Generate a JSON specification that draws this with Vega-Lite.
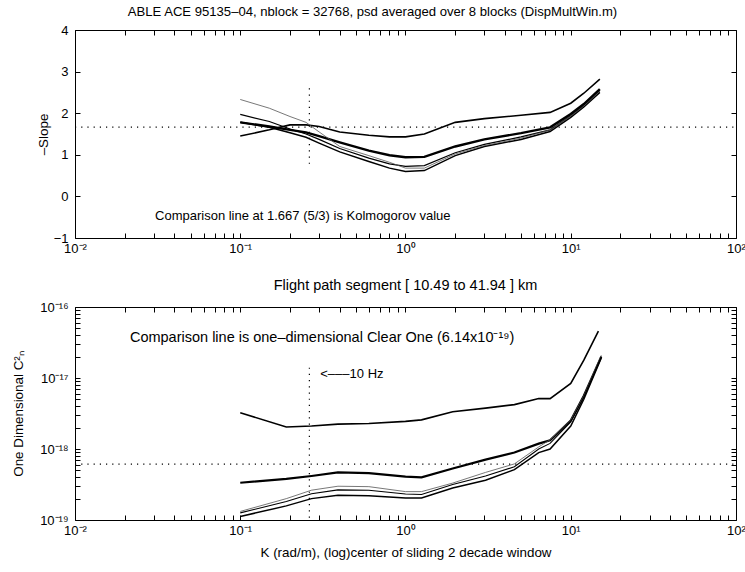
{
  "$schema": "https://vega.github.io/schema/vega-lite/v6.json",
  "background": "white",
  "padding": {"left": 11, "top": 5, "right": 5, "bottom": 5},
  "spacing": 21,
  "config": {
    "font": "Liberation Sans",
    "view": {"stroke": "black", "strokeWidth": 1},
    "axis": {"domain": false, "grid": false, "tickColor": "black", "labelColor": "black", "titleColor": "black", "labelFont": "Liberation Sans", "titleFont": "Liberation Sans", "labelFontSize": 13, "titleFontSize": 13.4, "titleFontWeight": "normal", "tickSize": -5, "labelFlush": false, "labelOverlap": false, "labelPadding": 9},
    "axisLeft": {"labelPadding": 12},
    "title": {"fontSize": 13.1, "fontWeight": "normal", "color": "black", "font": "Liberation Sans"},
    "text": {"font": "Liberation Sans", "fontSize": 13, "color": "black"}
  },
  "vconcat": [
    {
      "width": 661,
      "height": 208,
      "title": {"text": "ABLE ACE 95135–04, nblock = 32768, psd averaged over 8 blocks (DispMultWin.m)", "offset": 5, "dx": -33},
      "resolve": {"axis": {"x": "independent", "y": "independent"}},
      "layer": [
        {
          "data": {"values": [
            {"s":"B","x":0.1,"y":1.45},{"s":"B","x":0.15,"y":1.6},{"s":"B","x":0.2,"y":1.72},{"s":"B","x":0.25,"y":1.72},{"s":"B","x":0.3,"y":1.68},{"s":"B","x":0.4,"y":1.55},{"s":"B","x":0.6,"y":1.47},{"s":"B","x":0.8,"y":1.43},{"s":"B","x":1.0,"y":1.43},{"s":"B","x":1.3,"y":1.5},{"s":"B","x":2,"y":1.78},{"s":"B","x":3,"y":1.87},{"s":"B","x":5,"y":1.95},{"s":"B","x":7.5,"y":2.02},{"s":"B","x":10,"y":2.24},{"s":"B","x":12,"y":2.48},{"s":"B","x":15,"y":2.82}
          ]},
          "mark": {"type": "line", "color": "black", "strokeWidth": 1.6},
          "encoding": {
            "x": {"field": "x", "type": "quantitative", "scale": {"type": "log", "domain": [0.01, 100], "nice": false},
              "axis": {"orient": "bottom", "title": null, "values": [0.01,0.02,0.03,0.04,0.05,0.06,0.07,0.08,0.09,0.1,0.2,0.3,0.4,0.5,0.6,0.7,0.8,0.9,1,2,3,4,5,6,7,8,9,10,20,30,40,50,60,70,80,90,100],
                "labelExpr": "datum.value==0.01?'10⁻²':datum.value==0.1?'10⁻¹':datum.value==1?'10⁰':datum.value==10?'10¹':datum.value==100?'10²':''"}},
            "y": {"field": "y", "type": "quantitative", "scale": {"domain": [-1, 4], "nice": false},
              "axis": {"orient": "left", "title": "–Slope", "values": [-1,0,1,2,3,4], "titlePadding": 3}}
          }
        },
        {
          "data": {"values": [
            {"s":"C","x":0.1,"y":1.78},{"s":"C","x":0.15,"y":1.68},{"s":"C","x":0.2,"y":1.6},{"s":"C","x":0.25,"y":1.54},{"s":"C","x":0.3,"y":1.45},{"s":"C","x":0.4,"y":1.3},{"s":"C","x":0.6,"y":1.1},{"s":"C","x":0.8,"y":0.99},{"s":"C","x":1.0,"y":0.94},{"s":"C","x":1.3,"y":0.95},{"s":"C","x":2,"y":1.2},{"s":"C","x":3,"y":1.37},{"s":"C","x":5,"y":1.52},{"s":"C","x":7.5,"y":1.66},{"s":"C","x":10,"y":1.98},{"s":"C","x":12,"y":2.22},{"s":"C","x":15,"y":2.58}
          ]},
          "mark": {"type": "line", "color": "black", "strokeWidth": 2.4},
          "encoding": {
            "x": {"field": "x", "type": "quantitative", "scale": {"type": "log", "domain": [0.01, 100], "nice": false},
              "axis": {"orient": "top", "title": null, "labels": false, "values": [0.01,0.02,0.03,0.04,0.05,0.06,0.07,0.08,0.09,0.1,0.2,0.3,0.4,0.5,0.6,0.7,0.8,0.9,1,2,3,4,5,6,7,8,9,10,20,30,40,50,60,70,80,90,100]}},
            "y": {"field": "y", "type": "quantitative", "scale": {"domain": [-1, 4], "nice": false},
              "axis": {"orient": "right", "title": null, "labels": false, "values": [-1,0,1,2,3,4]}}
          }
        },
        {
          "data": {"values": [
            {"s":"E","x":0.1,"y":1.97},{"s":"E","x":0.15,"y":1.8},{"s":"E","x":0.2,"y":1.62},{"s":"E","x":0.25,"y":1.5},{"s":"E","x":0.3,"y":1.37},{"s":"E","x":0.4,"y":1.15},{"s":"E","x":0.6,"y":0.92},{"s":"E","x":0.8,"y":0.78},{"s":"E","x":1.0,"y":0.72},{"s":"E","x":1.3,"y":0.74},{"s":"E","x":2,"y":1.05},{"s":"E","x":3,"y":1.25},{"s":"E","x":5,"y":1.43},{"s":"E","x":7.5,"y":1.6},{"s":"E","x":10,"y":1.94},{"s":"E","x":12,"y":2.18},{"s":"E","x":15,"y":2.55}
          ]},
          "mark": {"type": "line", "color": "black", "strokeWidth": 1.2},
          "encoding": {
            "x": {"field": "x", "type": "quantitative", "scale": {"type": "log", "domain": [0.01, 100], "nice": false}, "axis": null},
            "y": {"field": "y", "type": "quantitative", "scale": {"domain": [-1, 4], "nice": false}, "axis": null}
          }
        },
        {
          "data": {"values": [
            {"s":"F","x":0.1,"y":1.78},{"s":"F","x":0.15,"y":1.66},{"s":"F","x":0.2,"y":1.53},{"s":"F","x":0.25,"y":1.42},{"s":"F","x":0.3,"y":1.28},{"s":"F","x":0.4,"y":1.07},{"s":"F","x":0.6,"y":0.84},{"s":"F","x":0.8,"y":0.68},{"s":"F","x":1.0,"y":0.6},{"s":"F","x":1.3,"y":0.62},{"s":"F","x":2,"y":0.98},{"s":"F","x":3,"y":1.2},{"s":"F","x":5,"y":1.37},{"s":"F","x":7.5,"y":1.56},{"s":"F","x":10,"y":1.9},{"s":"F","x":12,"y":2.15},{"s":"F","x":15,"y":2.5}
          ]},
          "mark": {"type": "line", "color": "black", "strokeWidth": 1.5},
          "encoding": {
            "x": {"field": "x", "type": "quantitative", "scale": {"type": "log", "domain": [0.01, 100], "nice": false}, "axis": null},
            "y": {"field": "y", "type": "quantitative", "scale": {"domain": [-1, 4], "nice": false}, "axis": null}
          }
        },
        {
          "data": {"values": [
            {"s":"S","x":0.1,"y":2.33},{"s":"S","x":0.15,"y":2.12},{"s":"S","x":0.2,"y":1.92},{"s":"S","x":0.25,"y":1.78},{"s":"S","x":0.3,"y":1.55},{"s":"S","x":0.4,"y":1.2},{"s":"S","x":0.6,"y":0.98},{"s":"S","x":0.8,"y":0.82},{"s":"S","x":1.0,"y":0.68},{"s":"S","x":1.3,"y":0.68},{"s":"S","x":2,"y":1.02},{"s":"S","x":3,"y":1.22},{"s":"S","x":5,"y":1.4},{"s":"S","x":7.5,"y":1.6},{"s":"S","x":10,"y":1.93},{"s":"S","x":12,"y":2.17},{"s":"S","x":15,"y":2.53}
          ]},
          "mark": {"type": "line", "color": "#555555", "strokeWidth": 0.8},
          "encoding": {
            "x": {"field": "x", "type": "quantitative", "scale": {"type": "log", "domain": [0.01, 100], "nice": false}, "axis": null},
            "y": {"field": "y", "type": "quantitative", "scale": {"domain": [-1, 4], "nice": false}, "axis": null}
          }
        },
        {
          "data": {"values": [
            {"r":"h","x":0.01,"y":1.667},{"r":"h","x":100,"y":1.667},
            {"r":"v","x":0.262,"y":2.6},{"r":"v","x":0.262,"y":0.7}
          ]},
          "mark": {"type": "line", "color": "black", "strokeWidth": 1.2, "strokeDash": [1.2, 5]},
          "encoding": {
            "detail": {"field": "r"},
            "x": {"field": "x", "type": "quantitative", "scale": {"type": "log", "domain": [0.01, 100], "nice": false}, "axis": null},
            "y": {"field": "y", "type": "quantitative", "scale": {"domain": [-1, 4], "nice": false}, "axis": null}
          }
        },
        {
          "data": {"values": [
            {"x":0.0305,"y":-0.48,"t":"Comparison line at 1.667  (5/3)  is Kolmogorov value"}
          ]},
          "mark": {"type": "text", "align": "left", "baseline": "middle", "fontSize": 13},
          "encoding": {
            "text": {"field": "t"},
            "x": {"field": "x", "type": "quantitative", "scale": {"type": "log", "domain": [0.01, 100], "nice": false}, "axis": null},
            "y": {"field": "y", "type": "quantitative", "scale": {"domain": [-1, 4], "nice": false}, "axis": null}
          }
        }
      ]
    },
    {
      "width": 661,
      "height": 213,
      "title": {"text": "Flight path segment [ 10.49 to 41.94 ] km", "offset": 8, "fontSize": 14.5},
      "resolve": {"axis": {"x": "independent", "y": "independent"}},
      "layer": [
        {
          "data": {"values": [
            {"s":"G","x":0.1,"y":3.24e-18},{"s":"G","x":0.19,"y":2.04e-18},{"s":"G","x":0.27,"y":2.11e-18},{"s":"G","x":0.39,"y":2.24e-18},{"s":"G","x":0.6,"y":2.29e-18},{"s":"G","x":1.0,"y":2.45e-18},{"s":"G","x":1.25,"y":2.57e-18},{"s":"G","x":1.93,"y":3.35e-18},{"s":"G","x":3.05,"y":3.76e-18},{"s":"G","x":4.56,"y":4.22e-18},{"s":"G","x":6.4,"y":5.13e-18},{"s":"G","x":7.5,"y":5.13e-18},{"s":"G","x":10,"y":8.41e-18},{"s":"G","x":12,"y":1.78e-17},{"s":"G","x":14.7,"y":4.57e-17}
          ]},
          "mark": {"type": "line", "color": "black", "strokeWidth": 1.6},
          "encoding": {
            "x": {"field": "x", "type": "quantitative", "scale": {"type": "log", "domain": [0.01, 100], "nice": false},
              "axis": {"orient": "bottom", "title": "K (rad/m), (log)center of sliding 2 decade window", "titlePadding": 8, "values": [0.01,0.02,0.03,0.04,0.05,0.06,0.07,0.08,0.09,0.1,0.2,0.3,0.4,0.5,0.6,0.7,0.8,0.9,1,2,3,4,5,6,7,8,9,10,20,30,40,50,60,70,80,90,100],
                "labelExpr": "datum.value==0.01?'10⁻²':datum.value==0.1?'10⁻¹':datum.value==1?'10⁰':datum.value==10?'10¹':datum.value==100?'10²':''"}},
            "y": {"field": "y", "type": "quantitative", "scale": {"type": "log", "domain": [1e-19, 1e-16], "nice": false},
              "axis": {"orient": "left", "title": "One Dimensional C²ₙ", "titlePadding": 14,
                "values": [1e-19,2e-19,3e-19,4e-19,5e-19,6e-19,7e-19,8e-19,9e-19,1e-18,2e-18,3e-18,4e-18,5e-18,6e-18,7e-18,8e-18,9e-18,1e-17,2e-17,3e-17,4e-17,5e-17,6e-17,7e-17,8e-17,9e-17,1e-16],
                "labelExpr": "datum.value==1e-19?'10⁻¹⁹':datum.value==1e-18?'10⁻¹⁸':datum.value==1e-17?'10⁻¹⁷':datum.value==1e-16?'10⁻¹⁶':''"}}
          }
        },
        {
          "data": {"values": [
            {"s":"H","x":0.1,"y":3.35e-19},{"s":"H","x":0.19,"y":3.8e-19},{"s":"H","x":0.27,"y":4.17e-19},{"s":"H","x":0.39,"y":4.68e-19},{"s":"H","x":0.6,"y":4.57e-19},{"s":"H","x":1.0,"y":4.07e-19},{"s":"H","x":1.25,"y":3.98e-19},{"s":"H","x":1.93,"y":5.31e-19},{"s":"H","x":3.05,"y":7.08e-19},{"s":"H","x":4.56,"y":8.91e-19},{"s":"H","x":6.4,"y":1.19e-18},{"s":"H","x":7.5,"y":1.33e-18},{"s":"H","x":10,"y":2.51e-18},{"s":"H","x":12,"y":5.62e-18},{"s":"H","x":15.3,"y":2.0e-17}
          ]},
          "mark": {"type": "line", "color": "black", "strokeWidth": 2.2},
          "encoding": {
            "x": {"field": "x", "type": "quantitative", "scale": {"type": "log", "domain": [0.01, 100], "nice": false},
              "axis": {"orient": "top", "title": null, "labels": false, "values": [0.01,0.02,0.03,0.04,0.05,0.06,0.07,0.08,0.09,0.1,0.2,0.3,0.4,0.5,0.6,0.7,0.8,0.9,1,2,3,4,5,6,7,8,9,10,20,30,40,50,60,70,80,90,100]}},
            "y": {"field": "y", "type": "quantitative", "scale": {"type": "log", "domain": [1e-19, 1e-16], "nice": false},
              "axis": {"orient": "right", "title": null, "labels": false,
                "values": [1e-19,2e-19,3e-19,4e-19,5e-19,6e-19,7e-19,8e-19,9e-19,1e-18,2e-18,3e-18,4e-18,5e-18,6e-18,7e-18,8e-18,9e-18,1e-17,2e-17,3e-17,4e-17,5e-17,6e-17,7e-17,8e-17,9e-17,1e-16]}}
          }
        },
        {
          "data": {"values": [
            {"s":"I","x":0.1,"y":1.32e-19},{"s":"I","x":0.19,"y":2.0e-19},{"s":"I","x":0.27,"y":2.63e-19},{"s":"I","x":0.39,"y":2.99e-19},{"s":"I","x":0.6,"y":2.95e-19},{"s":"I","x":1.0,"y":2.51e-19},{"s":"I","x":1.25,"y":2.51e-19},{"s":"I","x":1.93,"y":3.31e-19},{"s":"I","x":3.05,"y":4.68e-19},{"s":"I","x":4.56,"y":6.17e-19},{"s":"I","x":6.4,"y":1.07e-18},{"s":"I","x":7.5,"y":1.35e-18},{"s":"I","x":10,"y":2.57e-18},{"s":"I","x":12,"y":5.62e-18},{"s":"I","x":15.3,"y":2.09e-17}
          ]},
          "mark": {"type": "line", "color": "#555555", "strokeWidth": 0.8},
          "encoding": {
            "x": {"field": "x", "type": "quantitative", "scale": {"type": "log", "domain": [0.01, 100], "nice": false}, "axis": null},
            "y": {"field": "y", "type": "quantitative", "scale": {"type": "log", "domain": [1e-19, 1e-16], "nice": false}, "axis": null}
          }
        },
        {
          "data": {"values": [
            {"s":"J","x":0.1,"y":1.26e-19},{"s":"J","x":0.19,"y":1.82e-19},{"s":"J","x":0.27,"y":2.34e-19},{"s":"J","x":0.39,"y":2.66e-19},{"s":"J","x":0.6,"y":2.63e-19},{"s":"J","x":1.0,"y":2.32e-19},{"s":"J","x":1.25,"y":2.29e-19},{"s":"J","x":1.93,"y":3.16e-19},{"s":"J","x":3.05,"y":4.17e-19},{"s":"J","x":4.56,"y":5.62e-19},{"s":"J","x":6.4,"y":1.0e-18},{"s":"J","x":7.5,"y":1.2e-18},{"s":"J","x":10,"y":2.4e-18},{"s":"J","x":12,"y":5.37e-18},{"s":"J","x":15.3,"y":2.0e-17}
          ]},
          "mark": {"type": "line", "color": "black", "strokeWidth": 1.1},
          "encoding": {
            "x": {"field": "x", "type": "quantitative", "scale": {"type": "log", "domain": [0.01, 100], "nice": false}, "axis": null},
            "y": {"field": "y", "type": "quantitative", "scale": {"type": "log", "domain": [1e-19, 1e-16], "nice": false}, "axis": null}
          }
        },
        {
          "data": {"values": [
            {"s":"K","x":0.1,"y":1.12e-19},{"s":"K","x":0.19,"y":1.58e-19},{"s":"K","x":0.27,"y":2.0e-19},{"s":"K","x":0.39,"y":2.24e-19},{"s":"K","x":0.6,"y":2.19e-19},{"s":"K","x":1.0,"y":2.04e-19},{"s":"K","x":1.25,"y":2.04e-19},{"s":"K","x":1.93,"y":2.82e-19},{"s":"K","x":3.05,"y":3.63e-19},{"s":"K","x":4.56,"y":5.13e-19},{"s":"K","x":6.4,"y":8.91e-19},{"s":"K","x":7.5,"y":1.0e-18},{"s":"K","x":10,"y":2.11e-18},{"s":"K","x":12,"y":5.01e-18},{"s":"K","x":15.3,"y":1.91e-17}
          ]},
          "mark": {"type": "line", "color": "black", "strokeWidth": 1.5},
          "encoding": {
            "x": {"field": "x", "type": "quantitative", "scale": {"type": "log", "domain": [0.01, 100], "nice": false}, "axis": null},
            "y": {"field": "y", "type": "quantitative", "scale": {"type": "log", "domain": [1e-19, 1e-16], "nice": false}, "axis": null}
          }
        },
        {
          "data": {"values": [
            {"r":"h","x":0.01,"y":6.14e-19},{"r":"h","x":100,"y":6.14e-19},
            {"r":"v","x":0.262,"y":1.4e-17},{"r":"v","x":0.262,"y":1e-19}
          ]},
          "mark": {"type": "line", "color": "black", "strokeWidth": 1.2, "strokeDash": [1.2, 5]},
          "encoding": {
            "detail": {"field": "r"},
            "x": {"field": "x", "type": "quantitative", "scale": {"type": "log", "domain": [0.01, 100], "nice": false}, "axis": null},
            "y": {"field": "y", "type": "quantitative", "scale": {"type": "log", "domain": [1e-19, 1e-16], "nice": false}, "axis": null}
          }
        },
        {
          "data": {"values": [
            {"x":0.0215,"y":3.67e-17,"f":14.5,"t":"Comparison line is one–dimensional Clear One (6.14x10⁻¹⁹)"},
            {"x":0.305,"y":1.14e-17,"f":13,"t":"<–––10 Hz"}
          ]},
          "mark": {"type": "text", "align": "left", "baseline": "middle"},
          "encoding": {
            "text": {"field": "t"},
            "size": {"field": "f", "type": "quantitative", "scale": null},
            "x": {"field": "x", "type": "quantitative", "scale": {"type": "log", "domain": [0.01, 100], "nice": false}, "axis": null},
            "y": {"field": "y", "type": "quantitative", "scale": {"type": "log", "domain": [1e-19, 1e-16], "nice": false}, "axis": null}
          }
        }
      ]
    }
  ]
}
